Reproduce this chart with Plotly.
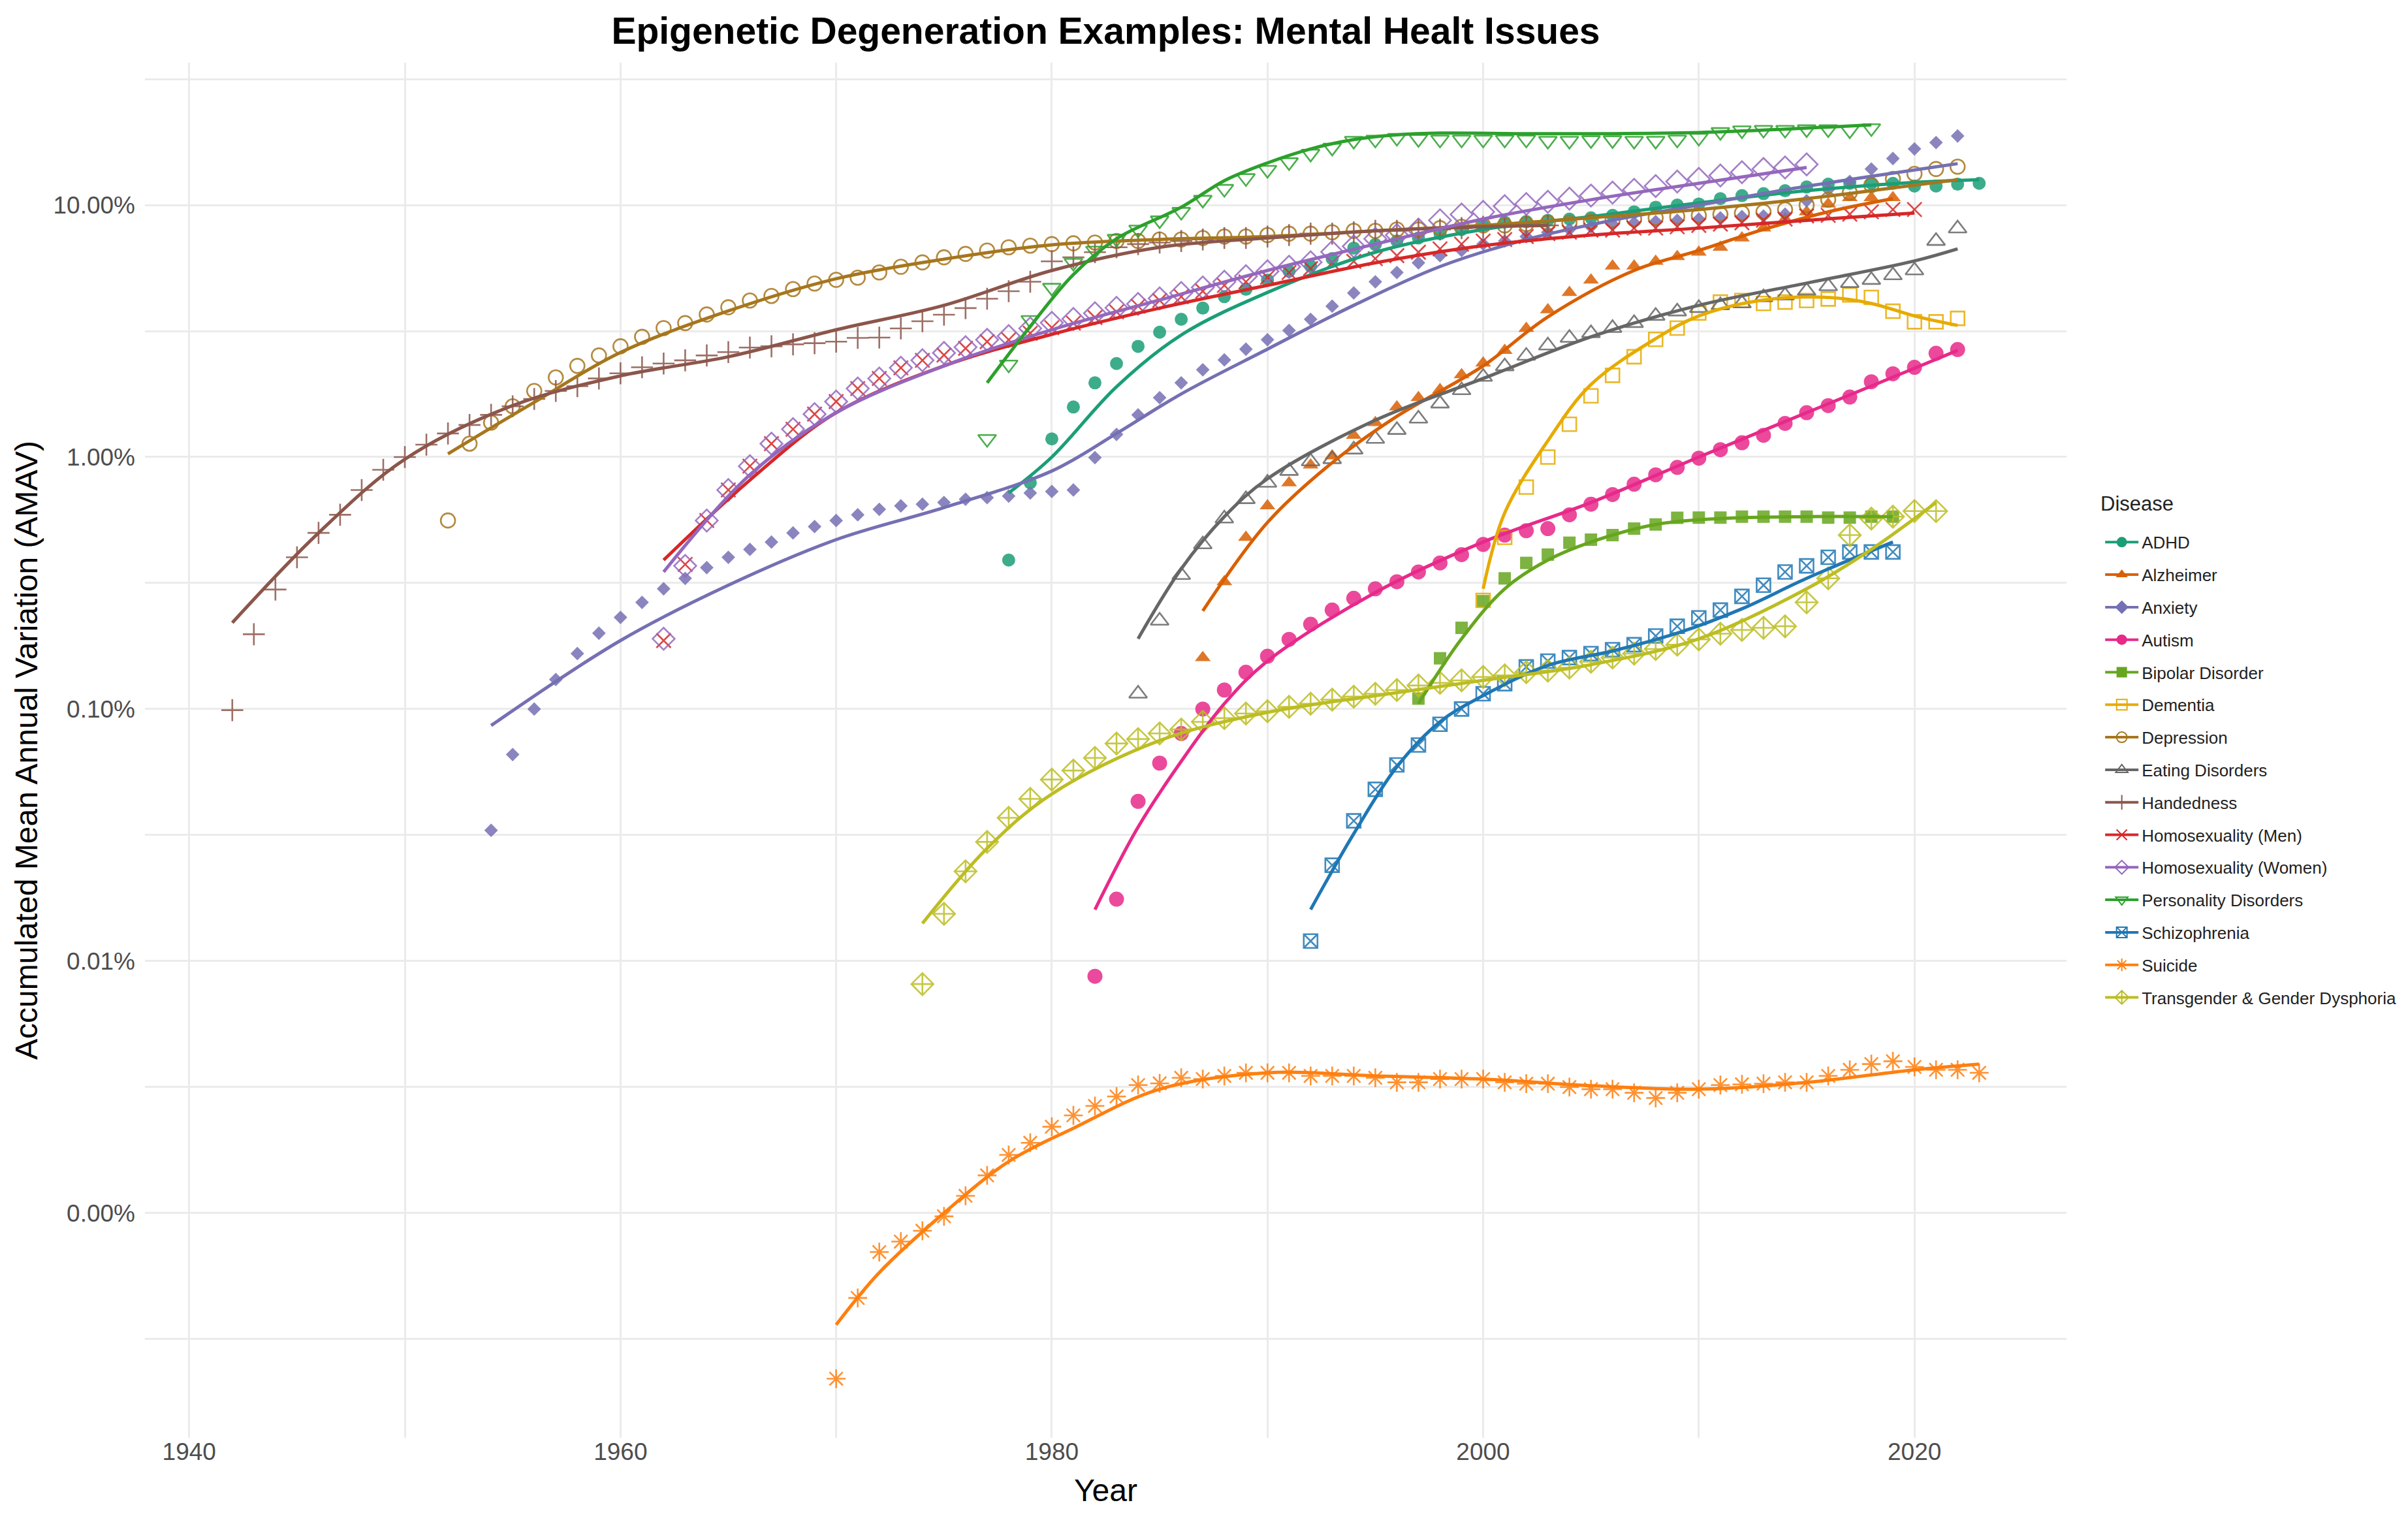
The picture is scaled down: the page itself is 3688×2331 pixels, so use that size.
import plotly.graph_objects as go

# ---- data (values in percent) ----
adhd_years = list(range(1978, 2024))
adhd_values = [0.39, 0.79, 1.18, 1.58, 1.97, 2.35, 2.75, 3.13, 3.52, 3.90, 4.33, 4.63, 5.04, 5.46, 5.73,
               6.13, 6.75, 6.98, 7.2, 7.4, 7.7, 8.0, 8.3, 8.55, 8.6, 8.7, 8.8, 8.9, 9.1, 9.4, 9.8, 10.0,
               10.1, 10.6, 10.9, 11.1, 11.4, 11.8, 12.1, 12.2, 12.2, 12.2, 11.9, 11.9, 12.1, 12.2]
adhd_fit_years = [1978, 1980, 1983, 1986, 1990, 1995, 2000, 2005, 2010, 2015, 2020, 2023]
adhd_fit_values = [0.72, 1.0, 1.9, 3.05, 4.5, 6.5, 8.0, 9.0, 10.2, 11.4, 12.3, 12.6]

alz_years = list(range(1987, 2020))
alz_values = [0.16, 0.32, 0.48, 0.64, 0.79, 0.93, 1.01, 1.22, 1.37, 1.58, 1.72, 1.85, 2.12, 2.36, 2.65,
              3.24, 3.84, 4.5, 5.04, 5.73, 5.73, 5.98, 6.24, 6.5, 6.8, 7.4, 8.1, 8.8, 9.4, 10.1, 10.7,
              10.7, 10.7]
alz_fit_years = [1987, 1990, 1993, 1996, 2000, 2003, 2007, 2010, 2013, 2016, 2019]
alz_fit_values = [0.245, 0.55, 0.95, 1.45, 2.3, 3.6, 5.5, 6.6, 8.0, 9.4, 10.6]

anx_years = list(range(1954, 2023))
anx_values = [0.033, 0.066, 0.10, 0.131, 0.166, 0.20, 0.231, 0.265, 0.30, 0.33, 0.364, 0.40, 0.43, 0.46,
              0.50, 0.53, 0.56, 0.59, 0.62, 0.64, 0.65, 0.66, 0.68, 0.69, 0.70, 0.72, 0.73, 0.74, 0.995,
              1.23, 1.47, 1.72, 1.97, 2.22, 2.43, 2.68, 2.92, 3.18, 3.52, 3.97, 4.48, 4.96, 5.4, 5.9,
              6.3, 6.6, 7.0, 7.2, 7.5, 7.8, 8.0, 8.2, 8.4, 8.5, 8.6, 8.7, 8.8, 8.9, 9.0, 9.05, 9.2,
              10.4, 11.5, 12.4, 13.9, 15.3, 16.7, 17.7, 18.8]
anx_fit_years = [1954, 1960, 1965, 1970, 1975, 1980, 1983, 1986, 1990, 1994, 1998, 2002, 2006, 2010,
                 2014, 2018, 2022]
anx_fit_values = [0.086, 0.187, 0.31, 0.47, 0.63, 0.88, 1.24, 1.78, 2.68, 4.0, 5.7, 7.3, 8.7, 10.0,
                  11.5, 13.0, 14.6]

aut_years = list(range(1982, 2023))
aut_values = [0.0087, 0.0176, 0.043, 0.061, 0.080, 0.10, 0.119, 0.14, 0.162, 0.189, 0.217, 0.247, 0.275,
              0.30, 0.32, 0.35, 0.38, 0.41, 0.45, 0.49, 0.51, 0.52, 0.59, 0.65, 0.71, 0.78, 0.85, 0.91,
              0.99, 1.07, 1.14, 1.22, 1.36, 1.50, 1.6, 1.73, 1.99, 2.14, 2.27, 2.58, 2.67]
aut_fit_years = [1982, 1984, 1986, 1988, 1990, 1995, 2000, 2005, 2010, 2015, 2020, 2022]
aut_fit_values = [0.016, 0.034, 0.062, 0.105, 0.155, 0.29, 0.46, 0.66, 1.0, 1.5, 2.25, 2.65]

bip_years = list(range(1997, 2020))
bip_values = [0.11, 0.159, 0.21, 0.268, 0.33, 0.38, 0.41, 0.457, 0.47, 0.49, 0.52, 0.54, 0.574, 0.575,
              0.575, 0.58, 0.58, 0.58, 0.58, 0.575, 0.575, 0.58, 0.58]
bip_fit_years = [1997, 1999, 2001, 2003, 2005, 2008, 2011, 2015, 2019]
bip_fit_values = [0.105, 0.19, 0.3, 0.39, 0.46, 0.54, 0.57, 0.58, 0.58]

dem_years = list(range(2000, 2023))
dem_values = [0.27, 0.48, 0.76, 1.0, 1.35, 1.75, 2.11, 2.5, 2.93, 3.25, 3.73, 4.12, 4.18, 4.07, 4.12,
              4.18, 4.24, 4.4, 4.3, 3.79, 3.44, 3.44, 3.55]
dem_fit_years = [2000, 2001, 2003, 2005, 2008, 2010, 2013, 2016, 2018, 2020, 2022]
dem_fit_values = [0.30, 0.6, 1.16, 1.94, 2.95, 3.63, 4.2, 4.3, 4.07, 3.63, 3.33]

dep_years = list(range(1952, 2023))
dep_values = [0.56, 1.13, 1.37, 1.59, 1.83, 2.07, 2.30, 2.53, 2.75, 3.0, 3.25, 3.4, 3.68, 3.93, 4.18,
              4.36, 4.64, 4.88, 5.05, 5.15, 5.4, 5.69, 5.92, 6.2, 6.4, 6.6, 6.8, 6.9, 7.0, 7.05, 7.1,
              7.2, 7.2, 7.3, 7.3, 7.4, 7.5, 7.5, 7.6, 7.7, 7.7, 7.8, 7.9, 7.9, 8.0, 8.0, 8.1, 8.2, 8.3,
              8.3, 8.4, 8.5, 8.5, 8.6, 8.7, 8.8, 8.9, 9.0, 9.1, 9.2, 9.3, 9.4, 9.6, 10.0, 10.5, 11.2,
              12.0, 12.7, 13.3, 13.9, 14.2]
dep_fit_years = [1952, 1956, 1960, 1965, 1970, 1975, 1980, 1985, 1990, 1995, 2000, 2005, 2010, 2015,
                 2020, 2022]
dep_fit_values = [1.03, 1.65, 2.6, 3.8, 5.1, 6.1, 6.95, 7.3, 7.5, 7.9, 8.3, 8.9, 9.6, 10.6, 12.0, 12.6]

eat_years = list(range(1984, 2023))
eat_values = [0.115, 0.224, 0.34, 0.45, 0.57, 0.68, 0.79, 0.88, 0.96, 0.98, 1.07, 1.18, 1.28, 1.42,
              1.63, 1.84, 2.08, 2.29, 2.52, 2.77, 2.97, 3.1, 3.25, 3.4, 3.63, 3.78, 3.9, 4.0, 4.07, 4.3,
              4.37, 4.56, 4.76, 4.9, 5.04, 5.26, 5.5, 7.2, 8.07]
eat_fit_years = [1984, 1986, 1988, 1990, 1995, 2000, 2005, 2010, 2015, 2020, 2022]
eat_fit_values = [0.19, 0.36, 0.58, 0.82, 1.4, 2.05, 3.0, 4.0, 4.9, 6.0, 6.7]

hand_years = list(range(1942, 2004))
hand_values = [0.099, 0.198, 0.298, 0.40, 0.50, 0.59, 0.74, 0.89, 1.0, 1.12, 1.24, 1.34, 1.47, 1.59,
               1.70, 1.83, 1.91, 2.05, 2.15, 2.27, 2.35, 2.42, 2.53, 2.61, 2.72, 2.75, 2.8, 2.83, 2.87,
               2.97, 2.98, 3.24, 3.46, 3.67, 3.90, 4.25, 4.55, 4.96, 5.98, 6.2, 6.5, 6.8, 7.0, 7.1, 7.2,
               7.3, 7.4, 7.4, 7.5, 7.6, 7.7, 7.7, 7.8, 7.9, 7.9, 8.0, 8.0, 8.1, 8.2, 8.2, 8.3, 8.3]
hand_fit_years = [1942, 1946, 1950, 1955, 1960, 1965, 1970, 1975, 1980, 1985, 1990, 1995, 2000, 2003]
hand_fit_values = [0.22, 0.5, 0.98, 1.6, 2.1, 2.5, 3.2, 4.0, 5.5, 6.8, 7.4, 7.9, 8.2, 8.3]

men_years = list(range(1962, 2021))
men_values = [0.187, 0.375, 0.56, 0.74, 0.92, 1.13, 1.29, 1.48, 1.66, 1.87, 2.05, 2.26, 2.42, 2.54,
              2.7, 2.87, 2.92, 3.1, 3.26, 3.4, 3.58, 3.77, 3.97, 4.18, 4.33, 4.55, 4.8, 4.96, 5.17, 5.4,
              5.6, 5.9, 5.98, 6.13, 6.3, 6.5, 6.7, 7.0, 7.2, 7.3, 7.5, 7.7, 7.8, 7.95, 7.95, 8.1, 8.1,
              8.2, 8.3, 8.4, 8.5, 8.7, 8.8, 9.05, 9.1, 9.2, 9.4, 9.6, 9.6]
men_fit_years = [1962, 1966, 1970, 1975, 1980, 1985, 1990, 1995, 2000, 2005, 2010, 2015, 2020]
men_fit_values = [0.39, 0.81, 1.5, 2.3, 3.07, 3.9, 4.8, 5.9, 6.9, 7.6, 8.1, 8.7, 9.3]

women_years = list(range(1962, 2016))
women_values = [0.19, 0.37, 0.56, 0.74, 0.92, 1.13, 1.29, 1.48, 1.66, 1.87, 2.05, 2.26, 2.42, 2.59,
                2.73, 2.92, 3.02, 3.24, 3.41, 3.53, 3.72, 3.91, 4.05, 4.26, 4.48, 4.71, 4.96, 5.22, 5.46,
                5.69, 5.93, 6.52, 6.86, 7.35, 7.6, 8.0, 8.7, 9.18, 9.4, 9.9, 10.1, 10.3, 10.6, 10.9,
                11.2, 11.5, 11.9, 12.4, 12.7, 13.1, 13.5, 13.9, 14.1, 14.5]
women_fit_years = [1962, 1966, 1970, 1975, 1980, 1985, 1990, 1995, 2000, 2005, 2010, 2015]
women_fit_values = [0.35, 0.85, 1.5, 2.3, 3.2, 4.2, 5.5, 7.0, 8.8, 10.5, 12.2, 14.1]

pd_years = list(range(1977, 2019))
pd_values = [1.18, 2.33, 3.5, 4.7, 5.9, 6.6, 7.35, 8.0, 8.7, 9.4, 10.5, 11.6, 12.8, 13.8, 14.8, 16.0,
             16.9, 18.0, 18.2, 18.5, 18.3, 18.2, 18.2, 18.2, 18.2, 18.2, 18.0, 18.0, 18.1, 18.1, 18.0,
             18.0, 18.2, 18.5, 19.5, 19.8, 19.9, 19.9, 20.0, 20.0, 19.8, 20.2]
pd_fit_years = [1977, 1979, 1981, 1983, 1986, 1988, 1990, 1992, 1994, 1996, 1998, 2002, 2006, 2010,
                2014, 2018]
pd_fit_values = [1.97, 3.3, 5.3, 7.35, 9.8, 12.5, 14.7, 16.7, 18.2, 19.0, 19.3, 19.2, 19.2, 19.4,
                 20.0, 20.8]

sch_years = list(range(1992, 2020))
sch_values = [0.012, 0.024, 0.036, 0.048, 0.06, 0.072, 0.087, 0.10, 0.115, 0.126, 0.147, 0.155, 0.16,
              0.166, 0.172, 0.18, 0.195, 0.213, 0.23, 0.247, 0.28, 0.31, 0.35, 0.37, 0.40, 0.42, 0.42,
              0.42]
sch_fit_years = [1992, 1994, 1996, 1998, 2000, 2003, 2006, 2009, 2012, 2015, 2019]
sch_fit_values = [0.016, 0.032, 0.059, 0.089, 0.113, 0.149, 0.17, 0.2, 0.25, 0.33, 0.46]

sui_years = list(range(1970, 2024))
sui_values = [0.00022, 0.00046, 0.0007, 0.00077, 0.00085, 0.00097, 0.00117, 0.00141, 0.0017, 0.0019,
              0.0022, 0.00244, 0.00266, 0.0029, 0.00322, 0.00327, 0.00344, 0.0034, 0.0035, 0.0036,
              0.0036, 0.0036, 0.0035, 0.0035, 0.0035, 0.00344, 0.0033, 0.0033, 0.0034, 0.0034, 0.0034,
              0.0033, 0.00326, 0.00326, 0.00316, 0.0031, 0.0031, 0.0030, 0.00286, 0.0030, 0.0031,
              0.00322, 0.00324, 0.00326, 0.0033, 0.0033, 0.0035, 0.0037, 0.0039, 0.0040, 0.0038,
              0.0037, 0.0037, 0.0036]
sui_fit_years = [1970, 1972, 1975, 1978, 1981, 1985, 1990, 1995, 2000, 2005, 2010, 2015, 2020, 2023]
sui_fit_values = [0.00036, 0.00058, 0.0010, 0.0016, 0.00217, 0.0031, 0.0036, 0.0035, 0.0034, 0.0032,
                  0.0031, 0.0033, 0.0037, 0.0039]

tra_years = list(range(1974, 2022))
tra_values = [0.0081, 0.0154, 0.0227, 0.0297, 0.037, 0.044, 0.0525, 0.057, 0.064, 0.073, 0.076, 0.08,
              0.083, 0.089, 0.092, 0.096, 0.098, 0.102, 0.105, 0.109, 0.112, 0.115, 0.119, 0.124, 0.127,
              0.130, 0.134, 0.136, 0.14, 0.142, 0.146, 0.154, 0.16, 0.166, 0.173, 0.18, 0.189, 0.199,
              0.206, 0.21, 0.213, 0.265, 0.33, 0.49, 0.57, 0.58, 0.61, 0.61]
tra_fit_years = [1974, 1977, 1980, 1985, 1990, 1995, 2000, 2005, 2010, 2015, 2018, 2021]
tra_fit_values = [0.0141, 0.028, 0.046, 0.075, 0.097, 0.113, 0.13, 0.15, 0.19, 0.3, 0.43, 0.66]

series = [
    ("ADHD", "#1B9E77", "circle", 20, adhd_years, adhd_values, adhd_fit_years, adhd_fit_values),
    ("Alzheimer", "#D95F02", "triangle-up", 21, alz_years, alz_values, alz_fit_years, alz_fit_values),
    ("Anxiety", "#7570B3", "diamond", 16, anx_years, anx_values, anx_fit_years, anx_fit_values),
    ("Autism", "#E7298A", "circle", 23, aut_years, aut_values, aut_fit_years, aut_fit_values),
    ("Bipolar Disorder", "#66A61E", "square", 19, bip_years, bip_values, bip_fit_years, bip_fit_values),
    ("Dementia", "#E6AB02", "square-open", 21, dem_years, dem_values, dem_fit_years, dem_fit_values),
    ("Depression", "#A6761D", "circle-open", 22, dep_years, dep_values, dep_fit_years, dep_fit_values),
    ("Eating Disorders", "#666666", "triangle-up-open", 24, eat_years, eat_values, eat_fit_years, eat_fit_values),
    ("Handedness", "#8C564B", "cross-thin-open", 24, hand_years, hand_values, hand_fit_years, hand_fit_values),
    ("Homosexuality (Men)", "#D62728", "x-thin-open", 22, men_years, men_values, men_fit_years, men_fit_values),
    ("Homosexuality (Women)", "#9467BD", "diamond-open", 26, women_years, women_values, women_fit_years, women_fit_values),
    ("Personality Disorders", "#2CA02C", "triangle-down-open", 24, pd_years, pd_values, pd_fit_years, pd_fit_values),
    ("Schizophrenia", "#1F77B4", "square-x-open", 21, sch_years, sch_values, sch_fit_years, sch_fit_values),
    ("Suicide", "#FF7F0E", "asterisk-open", 24, sui_years, sui_values, sui_fit_years, sui_fit_values),
    ("Transgender & Gender Dysphoria", "#BCBD22", "diamond-cross-open", 26, tra_years, tra_values, tra_fit_years, tra_fit_values),
]

fig = go.Figure()

# points first, then the smoothed curves on top (as in the original)
for name, color, symbol, size, xs, ys, fx, fy in series:
    fig.add_trace(go.Scatter(
        x=xs, y=ys, mode="markers", name=name, legendgroup=name, showlegend=False,
        marker=dict(symbol=symbol, size=size, color=color, opacity=0.85,
                    line=dict(color=color, width=2.6 if "open" in symbol else 0)),
    ))

for name, color, symbol, size, xs, ys, fx, fy in series:
    fig.add_trace(go.Scatter(
        x=fx, y=fy, mode="lines", name=name, legendgroup=name, showlegend=False,
        line=dict(color=color, width=5, shape="spline", smoothing=1.0),
    ))

# legend keys (line + symbol, like ggplot)
for name, color, symbol, size, xs, ys, fx, fy in series:
    fig.add_trace(go.Scatter(
        x=[None], y=[None], mode="lines+markers", name=name, legendgroup=name,
        line=dict(color=color, width=4),
        marker=dict(symbol=symbol, size=16, color=color,
                    line=dict(color=color, width=2 if "open" in symbol else 0)),
    ))

ytick_vals = [10 ** (k / 2) for k in range(-7, 4)]
ytick_text = [f"{v:.2f}%" if k % 2 == 0 else "" for k, v in zip(range(-7, 4), ytick_vals)]
xtick_vals = list(range(1940, 2030, 10))
xtick_text = [str(v) if v % 20 == 0 else "" for v in xtick_vals]

W, H = 3672, 2315
ML, MR, MT, MB = 214, 515, 88, 121

fig.update_layout(
    width=W, height=H,
    margin=dict(l=ML, r=MR, t=MT, b=MB),
    paper_bgcolor="white", plot_bgcolor="white",
    font=dict(family="Liberation Sans, Arial, sans-serif", color="#4D4D4D"),
    title=dict(text="<b>Epigenetic Degeneration Examples: Mental Healt Issues</b>",
               x=0.5, xref="paper", xanchor="center", y=0.983, yref="container", yanchor="middle",
               font=dict(size=57, color="black")),
    legend=dict(font=dict(size=26, color="#222222"),
                xref="container", yref="container", x=0.8745, y=0.6549, xanchor="left", yanchor="top",
                tracegroupgap=13, itemwidth=51, bgcolor="rgba(0,0,0,0)"),
    annotations=[dict(text="Disease", xref="paper", yref="paper", showarrow=False,
                      x=(3207 - ML) / (W - ML - MR), y=(H - MB - 763.5) / (H - MB - MT),
                      xanchor="left", yanchor="middle",
                      font=dict(size=31, color="#222222"))],
    showlegend=True,
)

fig.update_xaxes(
    title=dict(text="Year", font=dict(size=48, color="black"), standoff=22),
    range=[1937.95, 2027.05], tickmode="array", tickvals=xtick_vals, ticktext=xtick_text,
    tickfont=dict(size=37, color="#4D4D4D"), ticklabelstandoff=-4,
    showgrid=True, gridcolor="#EBEBEB", gridwidth=2.5,
    zeroline=False, showline=False, ticks="", automargin=False,
)
fig.update_yaxes(
    type="log", title=dict(text="Accumulated Mean Annual Variation (AMAV)", font=dict(size=48, color="black"),
                           standoff=8),
    range=[-3.892, 1.565], tickmode="array", tickvals=ytick_vals, ticktext=ytick_text,
    tickfont=dict(size=37, color="#4D4D4D"), ticklabelstandoff=14,
    showgrid=True, gridcolor="#EBEBEB", gridwidth=2.5,
    zeroline=False, showline=False, ticks="", automargin=False,
)

fig.write_html("out.html")
